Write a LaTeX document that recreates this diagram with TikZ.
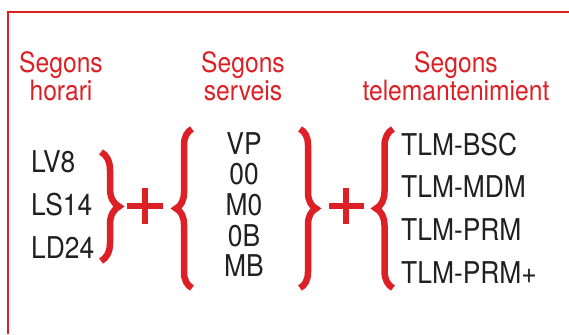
\documentclass[tikz,border=0pt]{standalone}
\usepackage{fontspec}
\setmainfont{TeX Gyre Heros}[FakeStretch=0.88]
\usepackage{tikz}
\usetikzlibrary{decorations.pathreplacing}
\definecolor{segred}{RGB}{221, 31, 38}
\definecolor{segblack}{RGB}{35, 31, 32}

\begin{document}
\begin{tikzpicture}[x=1pt, y=-1pt,
  head/.style={segred, inner sep=0, anchor=base, font=\fontsize{28}{28}\selectfont},
  item/.style={segblack, inner sep=0, font=\fontsize{30}{30}\selectfont},
  bracepath/.style={segred, line width=6.5pt, decorate, decoration={brace, amplitude=#1}},
  plussign/.style={segred, line width=6.5pt}]
\useasboundingbox (0,0) rectangle (569,334);
\draw[segred, line width=1.8pt] (8,334) -- (8,12) -- (569,12);
% titles
\node[head] (horA) at (61,73) {Segons};
\node[head] (horB) at (61,100) {horari};
\node[head] (serA) at (243,73) {Segons};
\node[head] (serB) at (243,100) {serveis};
\node[head] (telA) at (456,73) {Segons};
\node[head] (telB) at (456,100) {telemantenimient};
% horari
\node[item, anchor=base west] (lv) at (31,172) {LV8};
\node[item, anchor=base west] (ls) at (31,215) {LS14};
\node[item, anchor=base west] (ld) at (31,258) {LD24};
% serveis
\node[item, anchor=base] (vp) at (244,154) {VP};
\node[item, anchor=base] (oo) at (244,184.7) {00};
\node[item, anchor=base] (mo) at (244,215.4) {M0};
\node[item, anchor=base] (ob) at (244,246.1) {0B};
\node[item, anchor=base] (mb) at (244,276.8) {MB};
% telemanteniment
\node[item, anchor=base west] (bsc) at (401,155) {TLM-BSC};
\node[item, anchor=base west] (mdm) at (401,197.7) {TLM-MDM};
\node[item, anchor=base west] (prm) at (401,240.3) {TLM-PRM};
\node[item, anchor=base west] (prmp) at (401,283) {TLM-PRM+};
% claus i signes
\draw[bracepath=18pt] (101,152) -- (101,261);
\draw[plussign] (127,206) -- (163,206) (145,188) -- (145,224);
\draw[bracepath=16pt] (192,288) -- (192,129);
\draw[bracepath=16pt] (300,129) -- (300,288);
\draw[plussign] (329,206) -- (364,206) (346,188) -- (346,224);
\draw[bracepath=17pt] (393,288) -- (393,129);
\end{tikzpicture}
\end{document}
